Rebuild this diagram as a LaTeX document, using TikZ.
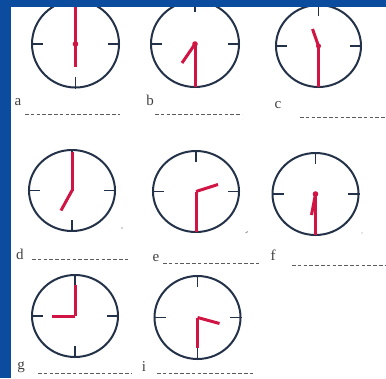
\documentclass[tikz,border=0pt]{standalone}
\usepackage{fontspec}
\setmainfont{Liberation Serif}
\definecolor{bandblue}{RGB}{11,76,158}
\definecolor{rimcol}{RGB}{35,50,72}
\definecolor{handred}{RGB}{208,20,68}
\definecolor{dashgray}{RGB}{90,90,95}
\tikzset{
  rim/.style={draw=rimcol,line width=2pt},
  clocktick/.style={draw=rimcol,line width=1.8pt},
  hand/.style={draw=handred,line width=3pt},
  hub/.style={fill=handred},
  dashline/.style={draw=dashgray,line width=0.9pt,dash pattern=on 3.6pt off 2.2pt},
  lbl/.style={inner sep=0pt,font=\fontsize{15}{17}\selectfont,text=black!75},
}
% #1 name, #2 cx, #3 cy, #4 rx, #5 ry
\newcommand\clockface[5]{%
  \coordinate (#1) at (#2,#3);
  \draw[rim] (#1) ellipse [x radius=#4pt, y radius=#5pt];
  \draw[clocktick] (#1) ++(0,-#5-1) -- ++(0,12);
  \draw[clocktick] (#1) ++(0,#5+1) -- ++(0,-12);
  \draw[clocktick] (#1) ++(-#4-1,0) -- ++(12,0);
  \draw[clocktick] (#1) ++(#4+1,0) -- ++(-12,0);
}
\begin{document}
\begin{tikzpicture}[x=1pt,y=-1pt]
\useasboundingbox (0,0) rectangle (386,378);
\fill[white] (0,0) rectangle (386,378);

% clocks
\clockface{ca}{75.5}{44}{43.5}{43.5}
\draw[hand] (ca) -- ++(0,-43);
\draw[hand] (ca) -- ++(0,23);
\fill[hub] (ca) circle (2.8pt);

\clockface{cb}{195}{44}{44}{43}
\draw[hand] (cb) -- ++(0,43);
\draw[hand] (cb) -- ++(-13,19);
\fill[hub] (cb) circle (2.8pt);

\clockface{cc}{318.5}{46}{42.5}{41}
\draw[hand] (cc) -- ++(0,41);
\draw[hand] (cc) -- ++(-6,-17);
\fill[hub] (cc) circle (2.5pt);

\clockface{cd}{72}{190.5}{43}{40.5}
\draw[hand] (cd) -- ++(0,-39);
\draw[hand] (cd) -- ++(-11,20);

\clockface{ce}{196}{191.5}{43}{40.5}
\draw[hand] (ce) -- ++(0,40);
\draw[hand] (ce) -- ++(22,-7);

\clockface{cf}{315.5}{194}{43}{41}
\draw[hand,line width=2.2pt] (cf) -- ++(0,41);
\draw[hand] (cf) -- ++(-4,21);
\fill[hub] (cf) circle (2.8pt);

\clockface{cg}{75}{316}{43}{41}
\draw[hand] (cg) -- ++(0,-31);
\draw[hand] (cg) -- ++(-23,0);

\clockface{ci}{197.5}{317.5}{43}{41.5}
\draw[hand] (ci) -- ++(0,30);
\draw[hand] (ci) -- ++(22,6);

% labels
\node[lbl] (la) at (18,102) {a};
\node[lbl] (lb) at (150,100) {b};
\node[lbl] (lc) at (278,105) {c};
\node[lbl] (ld) at (20,254) {d};
\node[lbl] (le) at (156,258) {e};
\node[lbl] (lf) at (273,255) {f};
\node[lbl] (lg) at (21,367) {g};
\node[lbl] (li) at (144,367) {i};

% answer lines
\coordinate (a1) at (25,114);  \coordinate (a2) at (120,114);
\coordinate (b1) at (155,114); \coordinate (b2) at (242,114);
\coordinate (c1) at (300,117); \coordinate (c2) at (386,117);
\coordinate (d1) at (32,259);  \coordinate (d2) at (128,259);
\coordinate (e1) at (163,263); \coordinate (e2) at (260,263);
\coordinate (f1) at (292,265); \coordinate (f2) at (386,265);
\coordinate (g1) at (38,373);  \coordinate (g2) at (132,373);
\coordinate (i1) at (157,373); \coordinate (i2) at (253,373);
\foreach \p in {a,b,c,d,e,f,g,i} \draw[dashline] (\p1) -- (\p2);

% specks
\fill[gray!70] (122,228) circle (0.9pt);
\draw[gray!80,line width=0.9pt] (245.5,233) -- (248,231.5);
\fill[gray!40] (362,233) circle (0.8pt);

% blue frame
\fill[bandblue] (0,0) rectangle (386,7);
\fill[bandblue] (0,0) rectangle (11,378);
\end{tikzpicture}
\end{document}
